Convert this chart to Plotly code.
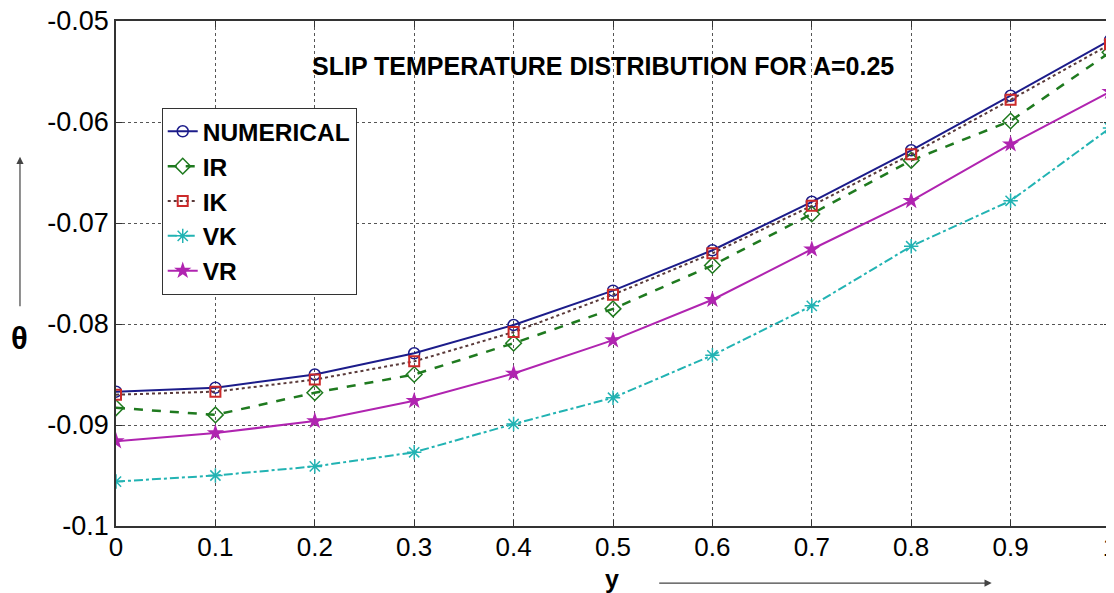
import plotly.graph_objects as go

# ---- data ----
y_pos = [0.0, 0.1, 0.2, 0.3, 0.4, 0.5, 0.6, 0.7, 0.8, 0.9, 1.0]
numerical = [-0.0867, -0.0863, -0.0850, -0.0829, -0.0801, -0.0767, -0.0727, -0.0679, -0.0628, -0.0574, -0.0519]
ir = [-0.0883, -0.0890, -0.0868, -0.0850, -0.0819, -0.0785, -0.0742, -0.0691, -0.0638, -0.0599, -0.0531]
ik = [-0.0870, -0.0867, -0.0855, -0.0837, -0.0808, -0.0771, -0.0730, -0.0683, -0.0632, -0.0578, -0.0523]
vk = [-0.0956, -0.0950, -0.0941, -0.0927, -0.0899, -0.0873, -0.0831, -0.0782, -0.0723, -0.0678, -0.0606]
vr = [-0.0916, -0.0908, -0.0896, -0.0876, -0.0849, -0.0816, -0.0776, -0.0726, -0.0678, -0.0622, -0.0570]

x_tickvals = [0.0, 0.1, 0.2, 0.3, 0.4, 0.5, 0.6, 0.7, 0.8, 0.9, 1.0]
x_ticktext = ["0", "0.1", "0.2", "0.3", "0.4", "0.5", "0.6", "0.7", "0.8", "0.9", "1"]
y_tickvals = [-0.1, -0.09, -0.08, -0.07, -0.06, -0.05]
y_ticktext = ["-0.1", "-0.09", "-0.08", "-0.07", "-0.06", "-0.05"]

FONT = "Liberation Sans, Arial, sans-serif"

fig = go.Figure()
fig.add_trace(go.Scatter(x=y_pos, y=numerical, name="NUMERICAL", mode="lines+markers",
                         line=dict(color="#1c1c8a", width=2),
                         marker=dict(symbol="circle-open", size=11, color="#1c1c8a", line=dict(width=1.5))))
fig.add_trace(go.Scatter(x=y_pos, y=ir, name="IR", mode="lines+markers",
                         line=dict(color="#1f7a1f", width=2.5, dash="dash"),
                         marker=dict(symbol="diamond-open", size=12, color="#1f7a1f", line=dict(width=1.5))))
fig.add_trace(go.Scatter(x=y_pos, y=ik, name="IK", mode="lines+markers",
                         line=dict(color="#5a3a3a", width=2, dash="dot"),
                         marker=dict(symbol="square-open", size=10, color="#cc2a2a", line=dict(width=2))))
fig.add_trace(go.Scatter(x=y_pos, y=vk, name="VK", mode="lines+markers",
                         line=dict(color="#22b3b3", width=2, dash="dashdot"),
                         marker=dict(symbol="asterisk-open", size=12, color="#22b3b3", line=dict(width=1.5, color="#22b3b3"))))
fig.add_trace(go.Scatter(x=y_pos, y=vr, name="VR", mode="lines+markers",
                         line=dict(color="#b024b0", width=2),
                         marker=dict(symbol="star", size=13, color="#b024b0")))

axis_common = dict(showline=True, linecolor="#333333", linewidth=1.5, mirror="allticks",
                   ticks="inside", ticklen=6, tickcolor="#333333",
                   showgrid=True, gridcolor="#555555", gridwidth=1, griddash="dot",
                   zeroline=False, automargin=False, ticklabeloverflow="allow",
                   tickfont=dict(family=FONT, size=27, color="black"))

fig.update_xaxes(range=[0, 1], tickvals=x_tickvals, ticktext=x_ticktext, **axis_common)
fig.update_yaxes(range=[-0.1, -0.05], tickvals=y_tickvals, ticktext=y_ticktext, **axis_common)
fig.update_xaxes(tickfont=dict(size=26), ticklabelstandoff=-3)

# the page body adds an 8px offset, so the figure is 8px smaller than the window
fig.update_layout(
    width=1106, height=585,
    margin=dict(l=108, r=4, t=13, b=67),
    paper_bgcolor="white", plot_bgcolor="white",
    font=dict(family=FONT, color="black"),
    showlegend=True,
    legend=dict(x=0.046, y=0.828, xanchor="left", yanchor="top",
                bgcolor="white", bordercolor="#333333", borderwidth=1,
                font=dict(family=FONT, size=24.5, color="black", weight="bold"),
                tracegroupgap=0),
    annotations=[
        dict(text="<b>SLIP TEMPERATURE DISTRIBUTION FOR A=0.25</b>", xref="paper", yref="paper",
             x=0.49, y=0.911, xanchor="center", yanchor="middle", showarrow=False,
             font=dict(family=FONT, size=25, color="black")),
        dict(text="<b>y</b>", xref="paper", yref="paper", x=0.499, y=-0.104,
             xanchor="center", yanchor="middle", showarrow=False,
             font=dict(family=FONT, size=25, color="black")),
        dict(text="<b>θ</b>", xref="paper", yref="paper", x=-0.0966, y=0.372,
             xanchor="center", yanchor="middle", showarrow=False,
             font=dict(family=FONT, size=31, color="black")),
        dict(text="", xref="paper", yref="paper", x=0.881, y=-0.113,
             ax=-334, ay=0, axref="pixel", ayref="pixel", showarrow=True,
             arrowhead=2, arrowsize=1.2, arrowwidth=1.2, arrowcolor="#444444"),
        dict(text="", xref="paper", yref="paper", x=-0.0966, y=0.731,
             ax=0, ay=151, axref="pixel", ayref="pixel", showarrow=True,
             arrowhead=2, arrowsize=1.2, arrowwidth=1.2, arrowcolor="#444444"),
    ],
)

fig.write_html("out.html")
